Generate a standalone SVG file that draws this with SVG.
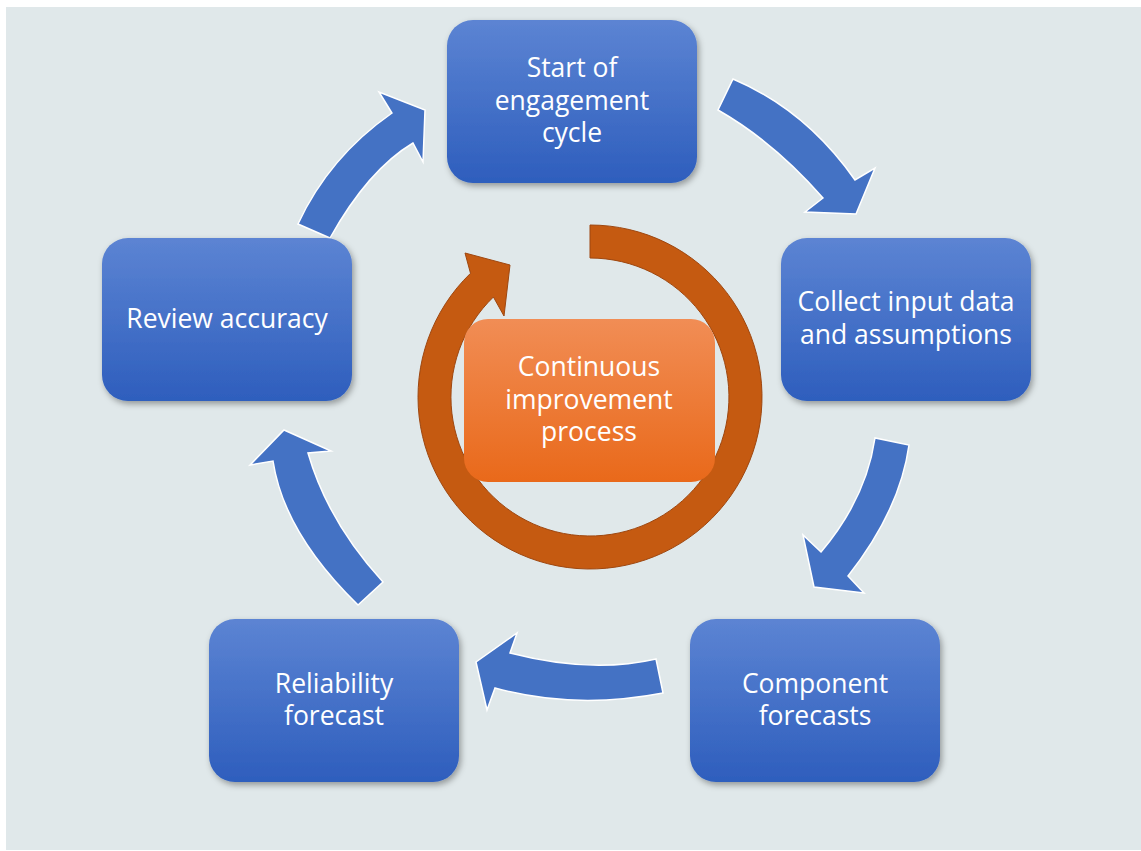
<svg xmlns="http://www.w3.org/2000/svg" width="1141" height="851" viewBox="0 0 1141 851">
<style>
.node rect.box{fill:url(#blueGrad);filter:url(#shadow)}
.lbl{font-family:"Open Sans","Noto Sans","Liberation Sans",sans-serif;font-size:26.5px;fill:#FFFFFF;text-anchor:middle}
.arrow{fill:#4472C4;stroke:#FFFFFF;stroke-width:1.5;stroke-linejoin:miter}
</style>
<defs>
<linearGradient id="blueGrad" x1="0" y1="0" x2="0" y2="1">
<stop offset="0" stop-color="#5C84D3"/>
<stop offset="1" stop-color="#2E5EBD"/>
</linearGradient>
<linearGradient id="orangeGrad" x1="0" y1="0" x2="0" y2="1">
<stop offset="0" stop-color="#F18D55"/>
<stop offset="1" stop-color="#E9691A"/>
</linearGradient>
<filter id="shadow" x="-10%" y="-10%" width="125%" height="130%">
<feDropShadow dx="2" dy="3" stdDeviation="3" flood-color="#000000" flood-opacity="0.35"/>
</filter>
</defs>
<rect x="6" y="7" width="1135" height="843" fill="#E0E8EA"/>
<g id="connectors">
<path class="arrow" d="M733,79 Q806,110 855,180 L875,168 L856,214 L805,212 L823,198 Q774,142 718,110 Z"/>
<path class="arrow" d="M909,445 Q900,510 848,576 L864,593 L814,587 L803,535 L821,552 Q866,499 875,438 Z"/>
<path class="arrow" d="M663,693 Q575,710 495,688 L487,710 L476,662 L517,633 L510,653 Q591,674 656,659 Z"/>
<path class="arrow" d="M383,582 Q328,522 308,453 L331,451 L284,430 L250,465 L273,461 Q284,533 358,605 Z"/>
<path class="arrow" d="M298,224 Q329,157 392,113 L379,92 L425,110 L423,162 L413,143 Q368,170 330,238 Z"/>
</g>
<g id="cycle-ring">
<path d="M590,225 A172,172 0 1 1 470.5,273.3 L465,253 L510,265 L504,316 L493.4,297 A139,139 0 1 0 590,258 Z" fill="#C55A11" stroke="#9E4710" stroke-width="1"/>
</g>
<g id="node-start" class="node">
<rect class="box" x="447" y="20" width="250" height="163" rx="26"/>
<text class="lbl" x="572" y="77">Start of</text>
<text class="lbl" x="572" y="110">engagement</text>
<text class="lbl" x="572" y="142">cycle</text>
</g>
<g id="node-collect" class="node">
<rect class="box" x="781" y="238" width="250" height="163" rx="26"/>
<text class="lbl" x="906" y="311">Collect input data</text>
<text class="lbl" x="906" y="344">and assumptions</text>
</g>
<g id="node-component" class="node">
<rect class="box" x="690" y="619" width="250" height="163" rx="26"/>
<text class="lbl" x="815" y="693">Component</text>
<text class="lbl" x="815" y="725">forecasts</text>
</g>
<g id="node-reliability" class="node">
<rect class="box" x="209" y="619" width="250" height="163" rx="26"/>
<text class="lbl" x="334" y="693">Reliability</text>
<text class="lbl" x="334" y="725">forecast</text>
</g>
<g id="node-review" class="node">
<rect class="box" x="102" y="238" width="250" height="163" rx="26"/>
<text class="lbl" x="227" y="328">Review accuracy</text>
</g>
<g id="node-continuous">
<rect x="464" y="319" width="251" height="163" rx="24" fill="url(#orangeGrad)"/>
<text class="lbl" x="589" y="376">Continuous</text>
<text class="lbl" x="589" y="409">improvement</text>
<text class="lbl" x="589" y="441">process</text>
</g>
</svg>
